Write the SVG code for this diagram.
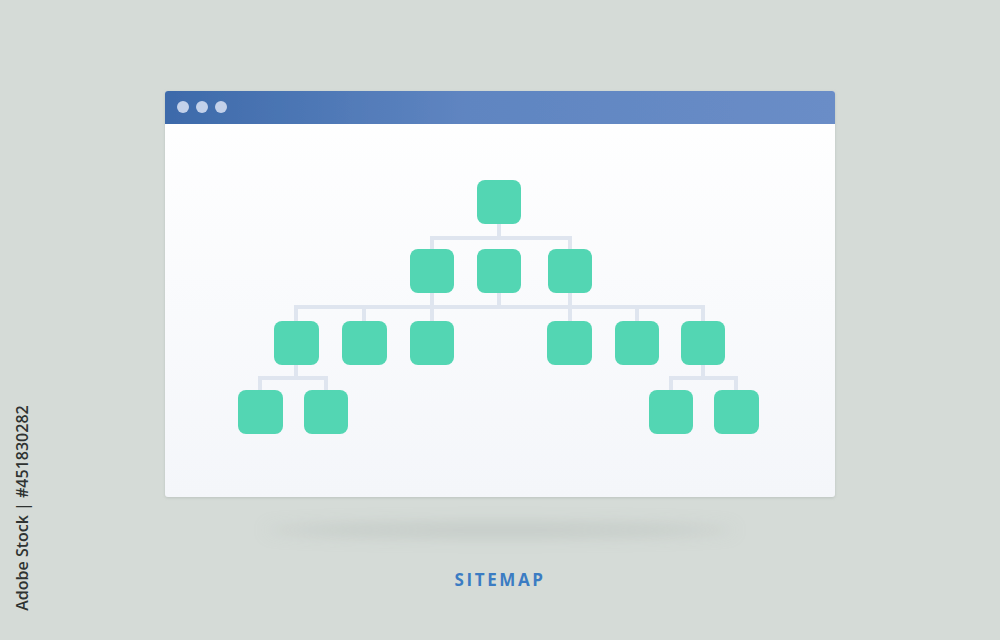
<svg xmlns="http://www.w3.org/2000/svg" width="1000" height="640" viewBox="0 0 1000 640">
  <defs>
    <linearGradient id="bar" x1="0" y1="0" x2="1" y2="0">
      <stop offset="0" stop-color="#3d6aaa"/>
      <stop offset="0.45" stop-color="#5f85c1"/>
      <stop offset="1" stop-color="#6a8dc7"/>
    </linearGradient>
    <linearGradient id="body" x1="0" y1="0" x2="0" y2="1">
      <stop offset="0" stop-color="#ffffff"/>
      <stop offset="1" stop-color="#f4f6fa"/>
    </linearGradient>
    <filter id="blur" x="-50%" y="-300%" width="200%" height="700%">
      <feGaussianBlur stdDeviation="8"/>
    </filter>
    <filter id="wshadow" x="-10%" y="-10%" width="120%" height="130%">
      <feDropShadow dx="0" dy="1" stdDeviation="1.5" flood-color="#8a9490" flood-opacity="0.35"/>
    </filter>
  </defs>
  <style>
    .node { fill: #53d6b3; }
    .conn { stroke: #dfe5ef; stroke-width: 4; fill: none; stroke-linejoin: miter; stroke-linecap: butt; }
    .dot { fill: #c3d1ea; }
  </style>
  <rect x="0" y="0" width="1000" height="640" fill="#d5dbd7"/>
  <ellipse cx="500" cy="530" rx="235" ry="6" fill="#bcc3bf" opacity="0.8" filter="url(#blur)"/>

  <g id="window" filter="url(#wshadow)">
    <rect x="165" y="91" width="670" height="406" rx="3" fill="url(#body)"/>
    <path d="M165 124 V94 a3 3 0 0 1 3 -3 H832 a3 3 0 0 1 3 3 V124 Z" fill="url(#bar)"/>
    <circle class="dot" cx="183" cy="107" r="6"/>
    <circle class="dot" cx="202" cy="107" r="6"/>
    <circle class="dot" cx="221" cy="107" r="6"/>
  </g>

  <g id="connectors">
    <path class="conn" d="M499 224 V238 M432 249 V238 H570 V249"/>
    <path class="conn" d="M432 293 V307 M499 293 V307 M570 293 V307 M296 321 V307 H703 V321 M364 307 V321 M432 307 V321 M570 307 V321 M637 307 V321"/>
    <path class="conn" d="M296 365 V378 M260 390 V378 H326 V390"/>
    <path class="conn" d="M703 365 V378 M671 390 V378 H736 V390"/>
  </g>

  <g id="n-root"><rect class="node" x="477" y="180" width="44" height="44" rx="8"/></g>
  <g id="n-a"><rect class="node" x="410" y="249" width="44" height="44" rx="8"/></g>
  <g id="n-b"><rect class="node" x="477" y="249" width="44" height="44" rx="8"/></g>
  <g id="n-c"><rect class="node" x="548" y="249" width="44" height="44" rx="8"/></g>
  <g id="n-a1"><rect class="node" x="274" y="321" width="45" height="44" rx="8"/></g>
  <g id="n-a2"><rect class="node" x="342" y="321" width="45" height="44" rx="8"/></g>
  <g id="n-a3"><rect class="node" x="410" y="321" width="44" height="44" rx="8"/></g>
  <g id="n-c1"><rect class="node" x="547" y="321" width="45" height="44" rx="8"/></g>
  <g id="n-c2"><rect class="node" x="615" y="321" width="44" height="44" rx="8"/></g>
  <g id="n-c3"><rect class="node" x="681" y="321" width="44" height="44" rx="8"/></g>
  <g id="n-a1a"><rect class="node" x="238" y="390" width="45" height="44" rx="8"/></g>
  <g id="n-a1b"><rect class="node" x="304" y="390" width="44" height="44" rx="8"/></g>
  <g id="n-c3a"><rect class="node" x="649" y="390" width="44" height="44" rx="8"/></g>
  <g id="n-c3b"><rect class="node" x="714" y="390" width="45" height="44" rx="8"/></g>

  <text x="500" y="586" text-anchor="middle" font-family="'Open Sans', 'Liberation Sans', sans-serif" font-weight="700" font-size="17" letter-spacing="2.6" fill="#3b7cc3">SITEMAP</text>

  <text transform="translate(28 508) rotate(-90)" text-anchor="middle" font-family="'Open Sans', 'DejaVu Sans', sans-serif" font-weight="600" font-size="16" fill="#2f3331">Adobe Stock | #451830282</text>
</svg>
